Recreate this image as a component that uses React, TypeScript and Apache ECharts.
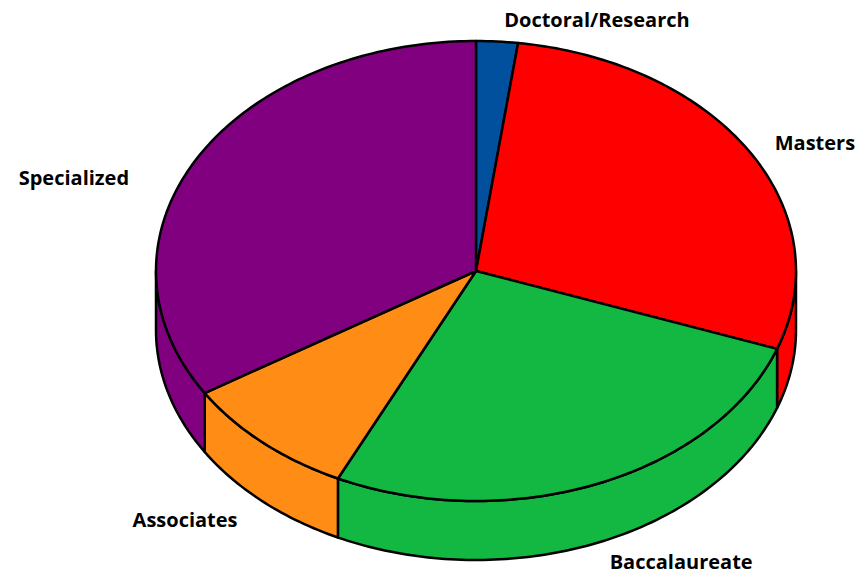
import React, { useEffect, useRef } from "react";
import * as echarts from "echarts";

const categories = ["Doctoral/Research", "Masters", "Baccalaureate", "Associates", "Specialized"];
const shares = [2.1, 28.4, 26.6, 9.0, 33.9];
const colors = ["#00509E", "#FF0000", "#13B843", "#FF8C14", "#800080"];

// small hand nudges for label placement (pixels), keyed by category
const labelNudge: Record<string, [number, number]> = {
  "Doctoral/Research": [5, 1],
  Masters: [-2, 3],
  Baccalaureate: [0, -3],
  Associates: [-4, 1],
  Specialized: [-39, 29],
};

export default function App() {
  const ref = useRef<HTMLDivElement>(null);
  useEffect(() => {
    const chart = echarts.init(ref.current!, null, { renderer: "svg" });
    const total = shares.reduce((a, b) => a + b, 0);
    const starts: number[] = [];
    let acc = 0;
    shares.forEach((v) => {
      starts.push((acc / total) * 360);
      acc += v;
    });
    const cx = 476, cy = 271, rx = 320, ry = 230, depth = 59;
    const pt = (t: number, dy = 0, k = 1) => {
      const r = (t * Math.PI) / 180;
      return [cx + k * rx * Math.sin(r), cy - k * ry * Math.cos(r) + dy];
    };
    const arc = (a: number, b: number, dy: number) => {
      const n = Math.max(2, Math.ceil(Math.abs(b - a)));
      const out: number[][] = [];
      for (let i = 0; i <= n; i++) out.push(pt(a + ((b - a) * i) / n, dy));
      return out;
    };
    const toPath = (pts: number[][], close: boolean) =>
      pts.map((p, i) => (i === 0 ? "M" : "L") + p[0].toFixed(2) + "," + p[1].toFixed(2)).join(" ") + (close ? " Z" : "");

    chart.setOption({
      animation: false,
      backgroundColor: "#ffffff",
      series: [
        {
          type: "custom",
          coordinateSystem: "none",
          silent: true,
          data: shares,
          renderItem: (params: any, api: any) => {
            const i = params.dataIndex;
            const v = api.value(0);
            const t0 = starts[i];
            const t1 = t0 + (v / total) * 360;
            const children: any[] = [];
            const a = Math.max(t0, 90), b = Math.min(t1, 270);
            if (b > a) {
              const top = arc(a, b, 0);
              const bot = arc(b, a, depth);
              children.push({
                type: "path",
                shape: { pathData: toPath(top.concat(bot), true) },
                style: { fill: colors[i], stroke: "#000", lineWidth: 2.5, lineJoin: "round" },
                z2: 1,
              });
            }
            const topPts = [[cx, cy]].concat(arc(t0, t1, 0));
            children.push({
              type: "path",
              shape: { pathData: toPath(topPts, true) },
              style: { fill: colors[i], stroke: "#000", lineWidth: 2.5, lineJoin: "round" },
              z2: 2,
            });
            const mid = (t0 + t1) / 2;
            const r = (mid * Math.PI) / 180;
            const front = Math.cos(r) < 0;
            const lp = pt(mid, front ? depth : 0, 1.1);
            const nudge = labelNudge[categories[i]] || [0, 0];
            children.push({
              type: "text",
              x: lp[0] + nudge[0],
              y: lp[1] + nudge[1],
              style: {
                text: categories[i],
                fill: "#000",
                font: "bold 20px 'Open Sans'",
                align: Math.sin(r) >= 0 ? "left" : "right",
                verticalAlign: "middle",
              },
              z2: 3,
            });
            return { type: "group", children };
          },
        },
      ],
    });
    return () => chart.dispose();
  }, []);
  return (
    <div
      ref={ref}
      style={{ position: "fixed", left: 0, top: 0, width: 860, height: 574, background: "#fff" }}
    />
  );
}
